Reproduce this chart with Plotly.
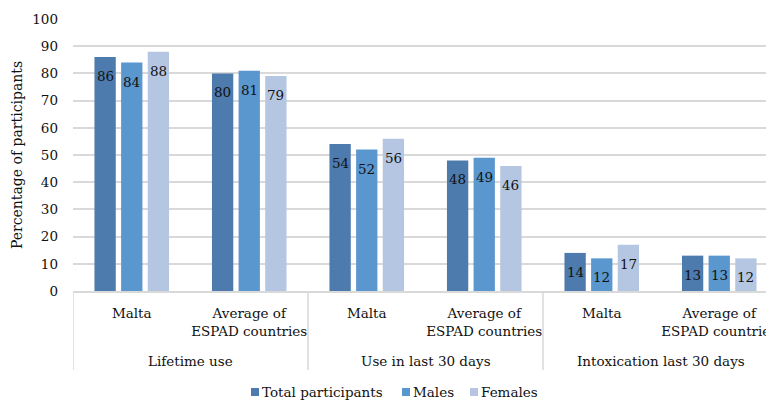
import plotly.graph_objects as go

# Survey results (percent of participants)
groups = ["Lifetime use", "Use in last 30 days", "Intoxication last 30 days"]
places = ["Malta", "Average of<br>ESPAD countries"]
series_names = ["Total participants", "Males", "Females"]
total_vals = [86, 80, 54, 48, 14, 13]
male_vals = [84, 81, 52, 49, 12, 13]
female_vals = [88, 79, 56, 46, 17, 12]
y_ticks = list(range(0, 101, 10))

colors = ["#4E7BAD", "#5B97CF", "#B5C6E2"]
series_vals = [total_vals, male_vals, female_vals]

FONT = "DejaVu Serif"
TXT = "#111111"
W, H = 766, 406
ML, MT, MB = 73, 19, 115
PW = W - ML
PH = H - MT - MB

BARGAP = 0.32
n_cat = len(groups) * len(places)
xs = list(range(n_cat))
tick_text = [places[i % len(places)] for i in xs]

fig = go.Figure()

for name, vals, col in zip(series_names, series_vals, colors):
    fig.add_trace(go.Bar(
        x=xs, y=vals, name=name, marker_color=col,
        marker_line_width=0, showlegend=False, hoverinfo="skip",
    ))

# value labels, centred on each bar and set just below its top
slot = (1 - BARGAP) / len(series_names)
for k, vals in enumerate(series_vals):
    off = (k - (len(series_names) - 1) / 2) * slot
    for x, v in zip(xs, vals):
        fig.add_annotation(x=x + off, y=v, xref="x", yref="y", text=str(v),
                           showarrow=False, yanchor="middle", yshift=-19,
                           font=dict(family=FONT, size=13.5, color=TXT))

# x range cut so the last group runs off the right edge
unit_px = 117.5
x_max = -0.5 + PW / unit_px

fig.update_layout(
    width=W, height=H,
    margin=dict(l=ML, r=0, t=MT, b=MB, autoexpand=False),
    paper_bgcolor="white", plot_bgcolor="white",
    barmode="group", bargap=BARGAP, bargroupgap=0.2,
    font=dict(family=FONT, size=13, color=TXT),
    xaxis=dict(
        range=[-0.5, x_max], tickmode="array", tickvals=xs, ticktext=tick_text,
        showgrid=False, zeroline=False, showline=True, linecolor="#d9d9d9",
        linewidth=1.5, ticks="", tickfont=dict(family=FONT, size=13.5),
        ticklabelstandoff=9, ticklabeloverflow="allow", automargin=False,
    ),
    yaxis=dict(
        range=[0, 100], tickmode="array", tickvals=y_ticks,
        showgrid=True, gridcolor="#d9d9d9", gridwidth=1.5, zeroline=False,
        showline=False, ticks="", tickfont=dict(family=FONT, size=13.5),
        ticklabelstandoff=14, automargin=False,
        title=dict(text="Percentage of participants", standoff=6,
                   font=dict(family=FONT, size=14)),
    ),
    showlegend=False,
)


def py_to_paper(py):
    return (MT + PH - py) / PH


def px_to_paper(px):
    return (px - ML) / PW


# group dividers below the axis
div_bottom = py_to_paper(370)
for g in range(len(groups)):
    xd = g * len(places) - 0.5
    fig.add_shape(type="line", xref="x", yref="paper", x0=xd, x1=xd,
                  y0=0, y1=div_bottom, line=dict(color="#d9d9d9", width=1.5))

# group titles
for g, label in enumerate(groups):
    xc = g * len(places) + (len(places) - 1) / 2
    fig.add_annotation(x=xc, xref="x", y=py_to_paper(361), yref="paper",
                       text=label, showarrow=False, yanchor="middle",
                       font=dict(family=FONT, size=13.5, color=TXT))

# legend drawn as swatches with labels
legend_px = [251, 402, 470]
sw = 8
ly = 392
for name, col, lx in zip(series_names, colors, legend_px):
    fig.add_shape(type="rect", xref="paper", yref="paper",
                  x0=px_to_paper(lx), x1=px_to_paper(lx + sw),
                  y0=py_to_paper(ly + sw / 2), y1=py_to_paper(ly - sw / 2),
                  fillcolor=col, line_width=0)
    fig.add_annotation(x=px_to_paper(lx + sw + 3), xref="paper",
                       y=py_to_paper(ly), yref="paper", text=name,
                       showarrow=False, xanchor="left", yanchor="middle",
                       xshift=-2,
                       font=dict(family=FONT, size=13.5, color=TXT))

fig.write_html("out.html")
